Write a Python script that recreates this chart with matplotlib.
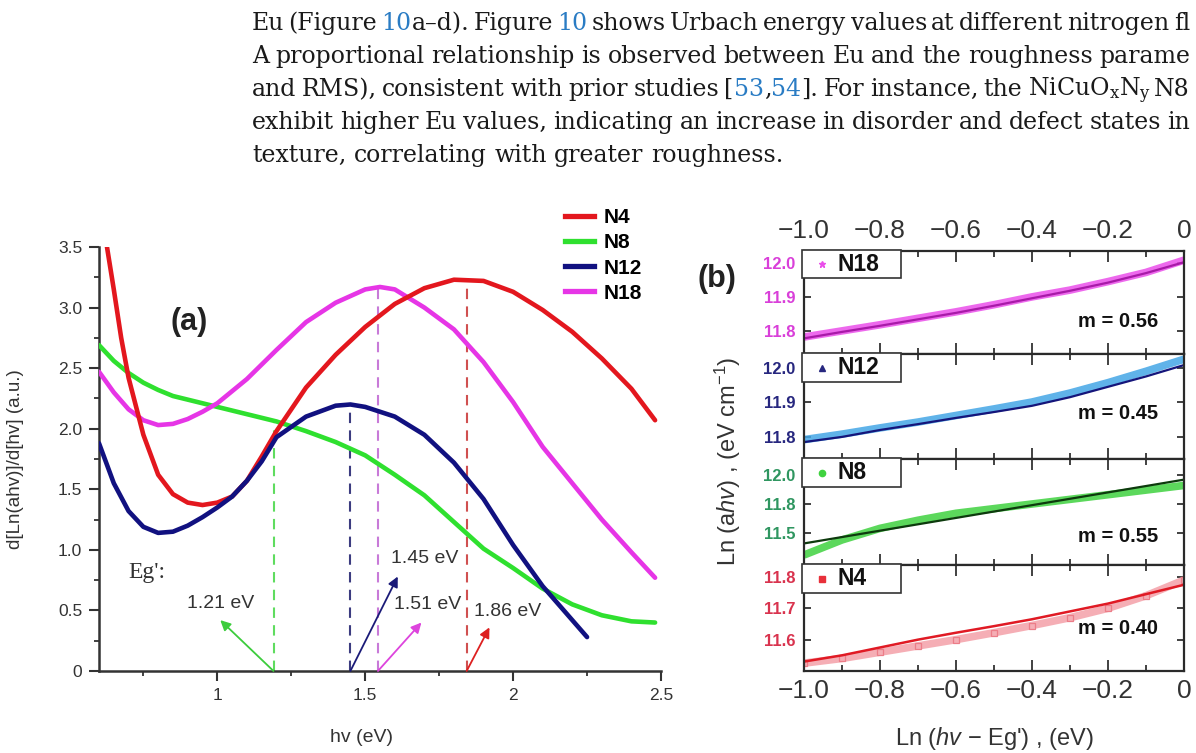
import matplotlib
matplotlib.use('Agg')
import matplotlib.pyplot as plt
from matplotlib.patches import Rectangle
from matplotlib.lines import Line2D

plt.rcParams['font.family'] = 'Liberation Sans'
plt.rcParams['mathtext.fontset'] = 'custom'
plt.rcParams['mathtext.rm'] = 'Liberation Sans'
plt.rcParams['mathtext.it'] = 'Liberation Sans:italic'
plt.rcParams['mathtext.bf'] = 'Liberation Sans:bold'

# ---------------- data: panel (a) ----------------
hv_n4 = [0.627, 0.65, 0.675, 0.70, 0.75, 0.80, 0.85, 0.90, 0.95, 1.00, 1.05, 1.10, 1.15, 1.20,
         1.30, 1.40, 1.50, 1.60, 1.70, 1.80, 1.90, 2.00, 2.10, 2.20, 2.30, 2.40, 2.48]
y_n4 = [3.50, 3.15, 2.75, 2.42, 1.95, 1.62, 1.46, 1.39, 1.37, 1.39, 1.44, 1.57, 1.77, 1.98,
        2.34, 2.61, 2.84, 3.03, 3.16, 3.23, 3.22, 3.13, 2.98, 2.80, 2.58, 2.33, 2.07]

hv_n8 = [0.60, 0.65, 0.70, 0.75, 0.80, 0.85, 0.90, 0.95, 1.00, 1.10, 1.20, 1.30, 1.40, 1.50,
         1.60, 1.70, 1.80, 1.90, 2.00, 2.10, 2.20, 2.30, 2.40, 2.48]
y_n8 = [2.69, 2.56, 2.46, 2.38, 2.32, 2.27, 2.24, 2.21, 2.18, 2.12, 2.06, 1.98, 1.89, 1.78,
        1.62, 1.45, 1.23, 1.01, 0.85, 0.68, 0.55, 0.46, 0.41, 0.40]

hv_n12 = [0.60, 0.65, 0.70, 0.75, 0.80, 0.85, 0.90, 0.95, 1.00, 1.05, 1.10, 1.15, 1.20, 1.30,
          1.40, 1.45, 1.50, 1.60, 1.70, 1.80, 1.90, 2.00, 2.10, 2.20, 2.25]
y_n12 = [1.88, 1.55, 1.32, 1.19, 1.14, 1.15, 1.20, 1.27, 1.35, 1.44, 1.57, 1.73, 1.93, 2.10,
         2.19, 2.20, 2.18, 2.10, 1.95, 1.72, 1.42, 1.04, 0.70, 0.42, 0.28]

hv_n18 = [0.60, 0.65, 0.70, 0.75, 0.80, 0.85, 0.90, 0.95, 1.00, 1.10, 1.20, 1.30, 1.40, 1.50,
          1.55, 1.60, 1.70, 1.80, 1.90, 2.00, 2.10, 2.20, 2.30, 2.40, 2.48]
y_n18 = [2.47, 2.30, 2.16, 2.07, 2.03, 2.04, 2.08, 2.14, 2.21, 2.41, 2.65, 2.88, 3.04, 3.15,
         3.17, 3.15, 3.00, 2.82, 2.55, 2.22, 1.85, 1.55, 1.25, 0.98, 0.77]

eg_x = [1.19, 1.45, 1.543, 1.843]
eg_top = [2.05, 2.20, 3.17, 3.24]
tip_x = [1.01, 1.61, 1.69, 1.92]
tip_y = [0.42, 0.78, 0.40, 0.36]
eg_labels = ['1.21 eV', '1.45 eV', '1.51 eV', '1.86 eV']
label_x = [1.01, 1.70, 1.71, 1.98]
label_y = [0.56, 0.93, 0.545, 0.49]

# ---------------- data: panel (b) ----------------
x_b = [-1.0, -0.9, -0.8, -0.7, -0.6, -0.5, -0.4, -0.3, -0.2, -0.1, 0.0]
n18_band = [11.782, 11.800, 11.818, 11.837, 11.856, 11.877, 11.900, 11.920, 11.945, 11.972, 12.008]
n18_fit = [11.778, 11.797, 11.815, 11.834, 11.853, 11.874, 11.896, 11.918, 11.942, 11.970, 12.002]
n12_band = [11.792, 11.808, 11.826, 11.843, 11.862, 11.881, 11.901, 11.927, 11.957, 11.990, 12.025]
n12_fit = [11.785, 11.800, 11.820, 11.837, 11.855, 11.872, 11.890, 11.915, 11.945, 11.975, 12.008]
n8_band = [11.31, 11.44, 11.54, 11.61, 11.67, 11.71, 11.75, 11.79, 11.83, 11.87, 11.91]
n8_fit_x = [-1.0, 0.0]
n8_fit = [11.41, 11.96]
n4_band = [11.525, 11.540, 11.560, 11.580, 11.600, 11.622, 11.645, 11.670, 11.700, 11.740, 11.790]
n4_fit = [11.530, 11.550, 11.575, 11.600, 11.622, 11.643, 11.665, 11.690, 11.715, 11.745, 11.775]

names_b = ['N18', 'N12', 'N8', 'N4']
slopes_b = ['m = 0.56', 'm = 0.45', 'm = 0.55', 'm = 0.40']
n18_ticks = [11.8, 11.9, 12.0]
n12_ticks = [11.8, 11.9, 12.0]
n8_ticks = [11.5, 11.75, 12.0]
n4_ticks = [11.6, 11.7, 11.8]
n18_lim = (11.732, 12.035)
n12_lim = (11.736, 12.040)
n8_lim = (11.224, 12.138)
n4_lim = (11.500, 11.838)
xb_ticks = [-1.0, -0.8, -0.6, -0.4, -0.2, 0.0]
xb_labels = ['\u22121.0', '\u22120.8', '\u22120.6', '\u22120.4', '\u22120.2', '0']

# ---------------- figure ----------------
W, H = 1196, 753
fig = plt.figure(figsize=(W / 100, H / 100), dpi=100)
renderer = fig.canvas.get_renderer()


def px_box(l, t, r, b):
    return [l / W, 1 - b / H, (r - l) / W, (b - t) / H]


# paragraph text on top (justified lines)
ink = '#1a1a1a'
link = '#2a7cc4'
para = dict(family='DejaVu Serif', fontsize=17)


def seg_width(s):
    t1 = fig.text(0, 0, s + '|', **para)
    t2 = fig.text(0, 0, '|', **para)
    w = t1.get_window_extent(renderer).width - t2.get_window_extent(renderer).width
    t1.remove()
    t2.remove()
    return w


def text_line(y_px, segments, x_px=252, x_end=None):
    # split into words, each word a list of (text, colour) parts
    words = [[]]
    for s, c in segments:
        for ch in s:
            if ch == ' ':
                words.append([])
            elif words[-1] and words[-1][-1][1] == c:
                words[-1][-1] = (words[-1][-1][0] + ch, c)
            else:
                words[-1].append((ch, c))
    words = [w for w in words if w]
    space = seg_width(' ')
    if x_end is not None and len(words) > 1:
        natural = sum(seg_width(p) for w in words for p, _ in w) + space * (len(words) - 1)
        space += (x_end - x_px - natural) / (len(words) - 1)
    for w in words:
        for p, c in w:
            fig.text(x_px / W, 1 - y_px / H, p, color=c, va='baseline', **para)
            x_px += seg_width(p)
        x_px += space


text_line(30, [('Eu (Figure ', ink), ('10', link), ('a\u2013d). Figure ', ink), ('10', link),
               (' shows Urbach energy values at different nitrogen fl', ink)], x_end=1190)
text_line(63, [('A proportional relationship is observed between Eu and the roughness parame', ink)],
          x_end=1190)
text_line(96, [('and RMS), consistent with prior studies [', ink), ('53', link), (',', ink), ('54', link),
               (r']. For instance, the NiCuO$_\mathregular{x}$N$_\mathregular{y}$ N8', ink)],
          x_end=1190)
text_line(129, [('exhibit higher Eu values, indicating an increase in disorder and defect states in', ink)],
          x_end=1190)
text_line(162, [('texture, correlating with greater roughness.', ink)])

# ---------------- panel (a) ----------------
ax = fig.add_axes(px_box(99, 247, 661, 671))
c_n4, c_n8, c_n12, c_n18 = '#e3171e', '#2fe02f', '#111180', '#e635e6'
ax.plot(hv_n8, y_n8, color=c_n8, lw=3.3, solid_capstyle='round', zorder=3)
ax.plot(hv_n18, y_n18, color=c_n18, lw=3.3, solid_capstyle='round', zorder=4)
ax.plot(hv_n4, y_n4, color=c_n4, lw=3.3, solid_capstyle='round', zorder=5)
ax.plot(hv_n12, y_n12, color=c_n12, lw=3.3, solid_capstyle='round', zorder=6)

dash_cols = ['#5fdc5f', '#3c3c80', '#c87ad8', '#d05050']
arrow_cols = ['#3ccc3c', '#1a1a78', '#dd44dd', '#dd2020']
for i in range(len(eg_x)):
    ax.plot([eg_x[i], eg_x[i]], [0, eg_top[i]], color=dash_cols[i], lw=1.5,
            ls=(0, (5, 3.5)), zorder=2)
    ax.annotate('', xy=(tip_x[i], tip_y[i]), xytext=(eg_x[i], 0),
                arrowprops=dict(arrowstyle='-|>', color=arrow_cols[i], lw=1.3,
                                mutation_scale=15, shrinkA=0, shrinkB=0), zorder=7)
    ax.text(label_x[i], label_y[i], eg_labels[i], fontsize=14, color='#333333',
            ha='center', va='center', zorder=8)

ax.text(0.698, 0.81, "Eg':", family='Liberation Serif', fontsize=17, color='#333333',
        ha='left', va='center')
ax.text(0.905, 2.88, '(a)', fontsize=22, fontweight='bold', ha='center', va='center',
        color='#222222')

ax.set_xlim(0.6, 2.5)
ax.set_ylim(0, 3.5)
ax.set_xticks([1, 1.5, 2, 2.5], labels=['1', '1.5', '2', '2.5'])
ax.set_xticks([0.75, 1.25, 1.75, 2.25], minor=True)
ax.set_yticks([0, 0.5, 1.0, 1.5, 2.0, 2.5, 3.0, 3.5],
              labels=['0', '0.5', '1.0', '1.5', '2.0', '2.5', '3.0', '3.5'])
ax.set_yticks([0.25, 0.75, 1.25, 1.75, 2.25, 2.75, 3.25], minor=True)
ax.tick_params(which='major', direction='out', length=7, width=1.5, colors='#333333',
               labelsize=12.5, pad=5)
ax.tick_params(which='minor', direction='out', length=3.5, width=1.3, colors='#333333')
for side in ['top', 'right']:
    ax.spines[side].set_visible(False)
for side in ['left', 'bottom']:
    ax.spines[side].set_linewidth(1.8)
    ax.spines[side].set_color('#333333')
ax.set_xlabel('hv (eV)', fontsize=14, color='#333333', labelpad=14)
ax.xaxis.set_label_coords((362 - 99) / 562, -(733 - 671) / 424 + 0.01)
ax.set_ylabel('d[Ln(ahv)]/d[hv] (a.u.)', fontsize=13.5, color='#333333')
ax.yaxis.set_label_coords(-(99 - 24) / 562, 0.5)
ax.patch.set_alpha(0)

handles = [Line2D([], [], color=c, lw=3.8) for c in [c_n4, c_n8, c_n12, c_n18]]
ax.legend(handles, ['N4', 'N8', 'N12', 'N18'], loc='upper left',
          bbox_to_anchor=(565 / W, 1 - 208 / H), bbox_transform=fig.transFigure,
          frameon=False, borderpad=0, borderaxespad=0, handlelength=1.4,
          handletextpad=0.45, labelspacing=0.3, prop={'weight': 'bold', 'size': 15})

# ---------------- panel (b) ----------------
rows = [(251, 354), (354, 459), (459, 565), (565, 671)]
bands = [n18_band, n12_band, n8_band, n4_band]
fits = [n18_fit, n12_fit, n8_fit, n4_fit]
fit_xs = [x_b, x_b, n8_fit_x, x_b]
band_cols = ['#ea4fea', '#44a6e6', '#3fd23f', '#f4a0a8']
fit_cols = ['#a81aa8', '#15157a', '#0d3a0d', '#e01a24']
tick_cols = ['#d93fd9', '#27277f', '#2f9660', '#d9334e']
marker_cols = ['#ea4fea', '#27277f', '#3fd23f', '#e8303a']
markers = ['*', '^', 'o', 's']
yticks_b = [n18_ticks, n12_ticks, n8_ticks, n4_ticks]
ylims_b = [n18_lim, n12_lim, n8_lim, n4_lim]
m_y = [0.32, 0.43, 0.27, 0.40]

for i, (top, bot) in enumerate(rows):
    axb = fig.add_axes(px_box(804, top, 1184, bot))
    axb.plot(x_b, bands[i], color=band_cols[i], lw=5.5, alpha=0.85, solid_capstyle='butt')
    if i == 3:
        axb.plot(x_b, bands[i], ls='none', marker='s', ms=4.5, mfc='none', mec='#ec7d88', mew=0.9)
    axb.plot(fit_xs[i], fits[i], color=fit_cols[i], lw=1.8 if i == 3 else 1.6)
    axb.set_xlim(-1.0, 0.0)
    axb.set_ylim(*ylims_b[i])
    axb.set_xticks(xb_ticks, labels=xb_labels)
    axb.set_xticks(x_b, minor=True)
    axb.set_yticks(yticks_b[i], labels=['%.1f' % v for v in yticks_b[i]],
                   fontweight='bold', color=tick_cols[i], fontsize=12)
    axb.tick_params(axis='x', which='both', direction='in', top=True, bottom=True,
                    labeltop=(i == 0), labelbottom=(i == 3), labelsize=19,
                    labelcolor='#333333', pad=6, width=1.3, color='#333333')
    axb.tick_params(axis='x', which='major', length=8)
    axb.tick_params(axis='x', which='minor', length=4)
    axb.tick_params(axis='y', which='major', direction='in', left=True, right=True,
                    length=5, width=1.3, color='#333333', pad=6)
    for sp in axb.spines.values():
        sp.set_linewidth(1.6)
        sp.set_color('#2a2a2a')
    axb.add_patch(Rectangle((-0.004, 0.735), 0.258, 0.27, transform=axb.transAxes,
                            facecolor='white', edgecolor='#333333', lw=1.2, clip_on=False,
                            zorder=5))
    axb.plot([0.047], [0.87], transform=axb.transAxes, marker=markers[i], ms=4.5,
             color=marker_cols[i], ls='none', zorder=6, clip_on=False)
    axb.text(0.087, 0.87, names_b[i], transform=axb.transAxes, fontsize=16.5,
             fontweight='bold', ha='left', va='center', zorder=6, color='#111111')
    axb.text(0.932, m_y[i], slopes_b[i], transform=axb.transAxes, fontsize=14.5,
             fontweight='bold', ha='right', va='center', color='#111111')

fig.text(717 / W, 1 - 279 / H, '(b)', fontsize=22, fontweight='bold', ha='center',
         va='center', color='#222222')
fig.text(728 / W, 1 - 461 / H, r'Ln (a$\mathit{hv}$) , (eV cm$^{\mathregular{-1}}$)',
         rotation=90, fontsize=17, ha='center', va='center', color='#333333')
fig.text(994 / W, 1 - 738 / H, r"Ln ($\mathit{hv}$ $\mathregular{-}$ Eg') , (eV)",
         fontsize=17, ha='center', va='center', color='#333333')

fig.savefig('out.png', dpi=100)
